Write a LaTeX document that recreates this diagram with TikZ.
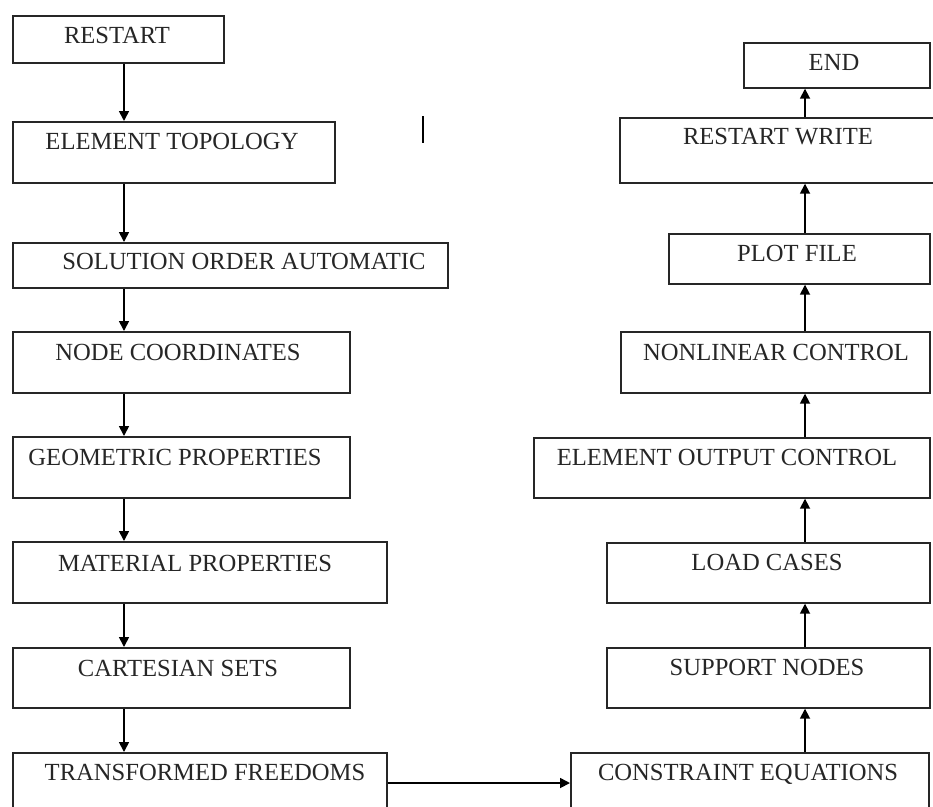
\documentclass[tikz,border=0pt]{standalone}
\usepackage{fontspec}
\setmainfont{Liberation Serif}
\usetikzlibrary{arrows.meta}
\begin{document}
\begin{tikzpicture}[x=1pt,y=-1pt,
  box/.style={draw=black!85, line width=1.7pt, rectangle, inner sep=0pt, anchor=north west},
  lbl/.style={anchor=base, inner sep=0pt, text=black!85, font=\fontsize{24.6}{28}\selectfont},
  arr/.style={line width=1.7pt, draw=black, -{Triangle[length=10pt,width=10pt]}}]
\useasboundingbox (0,0) rectangle (933,806);
\clip (0,0) rectangle (933,806);
\fill[white] (0,0) rectangle (933,806);

% guide coordinates for the connector lines
\coordinate (lx) at (124,0);
\coordinate (rx) at (805,0);
\coordinate (hy) at (0,783);

% left column (top to bottom)
\node[box, minimum width=211, minimum height=47] (restart) at (12,15) {};
\node[lbl] (restartT) at (117,43) {RESTART};
\node[box, minimum width=322, minimum height=61] (topo) at (12,121) {};
\node[lbl] (topoT) at (172,149) {ELEMENT TOPOLOGY};
\node[box, minimum width=435, minimum height=45] (order) at (12,242) {};
\node[lbl] (orderT) at (244,269) {SOLUTION ORDER AUTOMATIC};
\node[box, minimum width=337, minimum height=61] (coord) at (12,331) {};
\node[lbl] (coordT) at (178,360) {NODE COORDINATES};
\node[box, minimum width=337, minimum height=61] (geom) at (12,436) {};
\node[lbl] (geomT) at (175,465) {GEOMETRIC PROPERTIES};
\node[box, minimum width=374, minimum height=61] (mat) at (12,541) {};
\node[lbl] (matT) at (195,571) {MATERIAL PROPERTIES};
\node[box, minimum width=337, minimum height=60] (cart) at (12,647) {};
\node[lbl] (cartT) at (178,676) {CARTESIAN SETS};
\node[box, minimum width=374, minimum height=70] (trans) at (12,752) {};
\node[lbl] (transT) at (205,780) {TRANSFORMED FREEDOMS};

% right column (bottom to top)
\node[box, minimum width=358, minimum height=70] (constr) at (570,752) {};
\node[lbl] (constrT) at (748,780) {CONSTRAINT EQUATIONS};
\node[box, minimum width=323, minimum height=60] (support) at (606,647) {};
\node[lbl] (supportT) at (767,675) {SUPPORT NODES};
\node[box, minimum width=323, minimum height=60] (load) at (606,542) {};
\node[lbl] (loadT) at (767,570) {LOAD CASES};
\node[box, minimum width=396, minimum height=60] (elout) at (533,437) {};
\node[lbl] (eloutT) at (727,465) {ELEMENT OUTPUT CONTROL};
\node[box, minimum width=309, minimum height=61] (nonlin) at (620,331) {};
\node[lbl] (nonlinT) at (776,360) {NONLINEAR CONTROL};
\node[box, minimum width=261, minimum height=50] (plot) at (668,233) {};
\node[lbl] (plotT) at (797,261) {PLOT FILE};
\node[box, minimum width=321, minimum height=65] (rwrite) at (619,117) {};
\node[lbl] (rwriteT) at (778,144) {RESTART WRITE};
\node[box, minimum width=186, minimum height=45] (theend) at (743,42) {};
\node[lbl] (theendT) at (834,70) {END};

% stray vertical stroke
\draw[line width=1.8pt] (423,116) -- (423,143);

% connectors, left column downwards
\draw[arr] (restart.south -| lx) -- (topo.north -| lx);
\draw[arr] (topo.south -| lx) -- (order.north -| lx);
\draw[arr] (order.south -| lx) -- (coord.north -| lx);
\draw[arr] (coord.south -| lx) -- (geom.north -| lx);
\draw[arr] (geom.south -| lx) -- (mat.north -| lx);
\draw[arr] (mat.south -| lx) -- (cart.north -| lx);
\draw[arr] (cart.south -| lx) -- (trans.north -| lx);

% crossing over
\draw[arr] (trans.east |- hy) -- (constr.west |- hy);

% connectors, right column upwards
\draw[arr] (constr.north -| rx) -- (support.south -| rx);
\draw[arr] (support.north -| rx) -- (load.south -| rx);
\draw[arr] (load.north -| rx) -- (elout.south -| rx);
\draw[arr] (elout.north -| rx) -- (nonlin.south -| rx);
\draw[arr] (nonlin.north -| rx) -- (plot.south -| rx);
\draw[arr] (plot.north -| rx) -- (rwrite.south -| rx);
\draw[arr] (rwrite.north -| rx) -- (theend.south -| rx);
\end{tikzpicture}
\end{document}
